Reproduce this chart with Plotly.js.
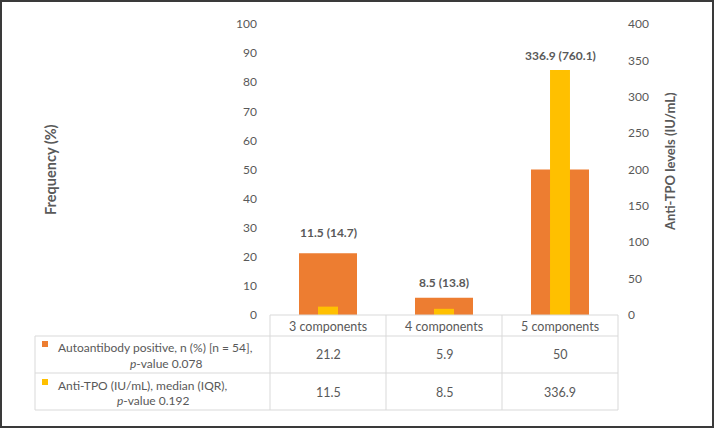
<!DOCTYPE html>
<html>
<head>
<meta charset="utf-8">
<script src="https://cdn.plot.ly/plotly-3.0.1.min.js"></script>
<style>html,body{margin:0;padding:0;background:#fff;}#chart{width:714px;height:428px;}</style>
</head>
<body>
<div id="chart"></div>
<script>
// ---- data ----
const categories = ['3 components', '4 components', '5 components'];
const autoPositive = [21.2, 5.9, 50];
const antiTPOMedian = [11.5, 8.5, 336.9];
const antiTPOIQR = [14.7, 13.8, 760.1];
const series1Line1 = 'Autoantibody positive, n (%) [n = 54],';
const series1Line2 = '<i>p</i>-value 0.078';
const series2Line1 = 'Anti-TPO (IU/mL), median (IQR),';
const series2Line2 = '<i>p</i>-value 0.192';

// ---- style / layout helpers ----
const ORANGE = '#ED7D31', YELLOW = '#FFC000', TXT = '#595959', GRID = '#D9D9D9';
const FONT = 'Lato, "Open Sans", sans-serif';
const W = 714, H = 428, L = 270, R = 618, T = 24, B = 315;
const px = X => (X - L) / (R - L);
const py = Y => (B - Y) / (B - T);
const n = categories.length;

const traces = [
  {type: 'bar', x: categories, y: autoPositive, width: 0.5, marker: {color: ORANGE},
   yaxis: 'y', hoverinfo: 'skip', showlegend: false},
  {type: 'bar', x: categories, y: antiTPOMedian, width: 0.172, marker: {color: YELLOW},
   yaxis: 'y2', hoverinfo: 'skip', showlegend: false}
];

const shapes = [];
const annotations = [];
// figure border
shapes.push({type: 'rect', xref: 'paper', yref: 'paper', x0: px(1), x1: px(713), y0: py(1), y1: py(427),
  line: {color: '#3a3a3a', width: 2}});
// table horizontal lines
shapes.push({type: 'line', xref: 'paper', yref: 'paper', x0: 0, x1: 1, y0: py(315), y1: py(315), line: {color: GRID, width: 1}});
[336, 373, 410].forEach(Y => shapes.push({type: 'line', xref: 'paper', yref: 'paper', x0: px(35), x1: 1, y0: py(Y), y1: py(Y), line: {color: GRID, width: 1}}));
// table vertical lines
for (let k = 0; k <= n; k++) {
  shapes.push({type: 'line', xref: 'paper', yref: 'paper', x0: k / n, x1: k / n, y0: py(315), y1: py(410), line: {color: GRID, width: 1}});
}
shapes.push({type: 'line', xref: 'paper', yref: 'paper', x0: px(35), x1: px(35), y0: py(336), y1: py(410), line: {color: GRID, width: 1}});
// legend keys
shapes.push({type: 'rect', xref: 'paper', yref: 'paper', x0: px(42), x1: px(48), y0: py(341), y1: py(347), line: {width: 0}, fillcolor: ORANGE});
shapes.push({type: 'rect', xref: 'paper', yref: 'paper', x0: px(42), x1: px(48), y0: py(379), y1: py(385), line: {width: 0}, fillcolor: YELLOW});

const tf = {family: FONT, size: 12.5, color: TXT};
const lf = {family: FONT, size: 12, color: TXT};
// table text
categories.forEach((c, i) => {
  annotations.push({xref: 'x', yref: 'paper', x: c, y: py(326), text: c, showarrow: false, font: tf, xanchor: 'center', yanchor: 'middle'});
  annotations.push({xref: 'x', yref: 'paper', x: c, y: py(354), text: String(autoPositive[i]), showarrow: false, font: tf, xanchor: 'center', yanchor: 'middle'});
  annotations.push({xref: 'x', yref: 'paper', x: c, y: py(392), text: String(antiTPOMedian[i]), showarrow: false, font: tf, xanchor: 'center', yanchor: 'middle'});
  // bar labels
  const top = Math.max(autoPositive[i], antiTPOMedian[i] / 4);
  const shift = [21, 15, 14][i];
  annotations.push({xref: 'x', yref: 'y', x: c, y: top, yshift: shift, text: '<b>' + antiTPOMedian[i] + ' (' + antiTPOIQR[i] + ')</b>',
    showarrow: false, font: {family: FONT, size: 12, color: TXT}, xanchor: 'center', yanchor: 'middle'});
});
annotations.push({xref: 'paper', yref: 'paper', x: px(56), y: py(347.5), text: series1Line1, showarrow: false, font: lf, xanchor: 'left', yanchor: 'middle'});
annotations.push({xref: 'paper', yref: 'paper', x: px(166), y: py(363), text: series1Line2, showarrow: false, font: lf, xanchor: 'center', yanchor: 'middle'});
annotations.push({xref: 'paper', yref: 'paper', x: px(56), y: py(385), text: series2Line1, showarrow: false, font: lf, xanchor: 'left', yanchor: 'middle'});
annotations.push({xref: 'paper', yref: 'paper', x: px(153), y: py(400), text: series2Line2, showarrow: false, font: lf, xanchor: 'center', yanchor: 'middle'});
// axis titles
annotations.push({xref: 'paper', yref: 'paper', x: px(50), y: py(170), text: '<b>Frequency (%)</b>', textangle: -90, showarrow: false,
  font: {family: FONT, size: 14.5, color: TXT}, xanchor: 'center', yanchor: 'middle'});
annotations.push({xref: 'paper', yref: 'paper', x: px(670), y: py(162), text: '<b>Anti-TPO levels (IU/mL)</b>', textangle: -90, showarrow: false,
  font: {family: FONT, size: 13, color: TXT}, xanchor: 'center', yanchor: 'middle'});

const layout = {
  width: W, height: H,
  margin: {l: L, r: W - R, t: T, b: H - B, pad: 0},
  paper_bgcolor: '#fff', plot_bgcolor: '#fff',
  barmode: 'overlay', showlegend: false,
  font: {family: FONT, color: TXT, size: 12},
  xaxis: {type: 'category', range: [-0.5, n - 0.5], showticklabels: false, showgrid: false, zeroline: false, showline: false, ticks: '', fixedrange: true},
  yaxis: {range: [0, 100], dtick: 10, showgrid: false, zeroline: false, showline: false, ticks: '', ticklabelstandoff: 12,
    tickfont: {family: FONT, size: 12, color: TXT}},
  yaxis2: {range: [0, 400], dtick: 50, overlaying: 'y', side: 'right', showgrid: false, zeroline: false, showline: false, ticks: '', ticklabelstandoff: 9,
    tickfont: {family: FONT, size: 12, color: TXT}},
  shapes: shapes,
  annotations: annotations
};

Plotly.newPlot('chart', traces, layout, {staticPlot: true, displayModeBar: false});
</script>
</body>
</html>
